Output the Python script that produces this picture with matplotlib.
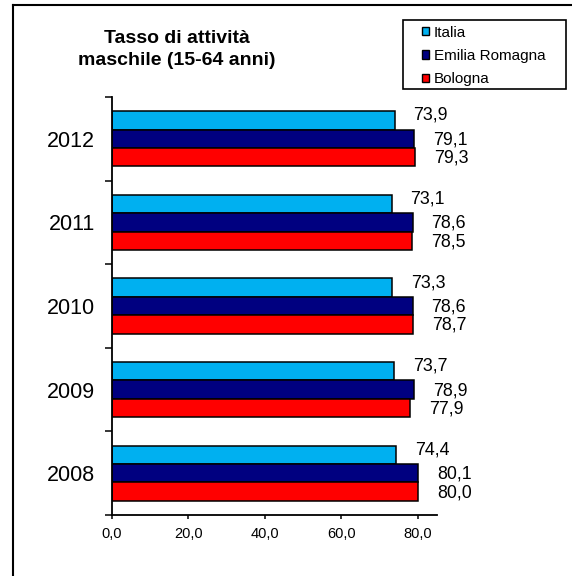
import matplotlib
matplotlib.use('Agg')
import matplotlib.pyplot as plt
from matplotlib.patches import Patch, Rectangle
from matplotlib.lines import Line2D
import numpy as np

plt.rcParams['font.family'] = ['Liberation Sans', 'DejaVu Sans']

# dati
anni = ['2008', '2009', '2010', '2011', '2012']
italia = [74.4, 73.7, 73.3, 73.1, 73.9]
emilia = [80.1, 78.9, 78.6, 78.6, 79.1]
bologna = [80.0, 77.9, 78.7, 78.5, 79.3]
serie = ['Italia', 'Emilia Romagna', 'Bologna']
colori = ['#00B0F0', '#000080', '#FF0000']

fig = plt.figure(figsize=(5.72, 5.76), dpi=100)
ax = fig.add_axes([112/572, 1-515/576, (437-112)/572, (515-97)/576])

y = np.arange(len(anni)) + 0.5
h = 0.22
valori = [italia, emilia, bologna]
offs = [h, 0, -h]
for vals, col, off, nome in zip(valori, colori, offs, serie):
    ax.barh(y + off, vals, height=h, color=col, edgecolor='black', linewidth=1.1, label=nome)
    dy = 5 if off > 0 else -1
    for yy, v in zip(y + off, vals):
        ax.annotate(f'{v:.1f}'.replace('.', ','), (v, yy), xytext=(19, dy),
                    textcoords='offset pixels', ha='left', va='center', fontsize=12.8)

ax.set_xlim(0, 85)
ax.set_ylim(0, len(anni))
ax.set_xticks([0, 20, 40, 60, 80])
ax.set_xticklabels(['0,0', '20,0', '40,0', '60,0', '80,0'], fontsize=10.5)
ax.set_yticks(np.arange(len(anni) + 1))
ax.set_yticklabels([])
ax.set_yticks(y, minor=True)
ax.set_yticklabels(anni, minor=True, fontsize=15.5)
ax.tick_params(axis='y', which='minor', length=0, pad=12)
ax.tick_params(axis='y', which='major', length=5, width=1.1)
ax.tick_params(axis='x', length=3, width=1.1, pad=6)
for s in ['top', 'right']:
    ax.spines[s].set_visible(False)
for s in ['left', 'bottom']:
    ax.spines[s].set_linewidth(1.3)

fig.text(176.5/572, 1-49.5/576, 'Tasso di attività\nmaschile (15-64 anni)', ha='center', va='center',
         fontsize=14, fontweight='bold', linespacing=1.4)

# legenda
handles = [Patch(facecolor=c, edgecolor='black', linewidth=1) for c in colori]
leg = fig.legend(handles, serie, loc='upper left', bbox_to_anchor=(418/572, 1-22/576),
                 fontsize=11, handlelength=0.5, handleheight=0.45, handletextpad=0.3,
                 labelspacing=0.6, borderpad=0.25, borderaxespad=0, frameon=False)
fig.add_artist(Rectangle((403/572, 1-89/576), 163/572, 69/576, transform=fig.transFigure,
                         facecolor='none', edgecolor='black', linewidth=1.2))

# cornice
fig.add_artist(Line2D([13/572, 1], [1-5/576, 1-5/576], color='black', linewidth=1.5))
fig.add_artist(Line2D([13/572, 13/572], [0, 1-5/576], color='black', linewidth=1.5))

fig.savefig('out.png', dpi=100)
